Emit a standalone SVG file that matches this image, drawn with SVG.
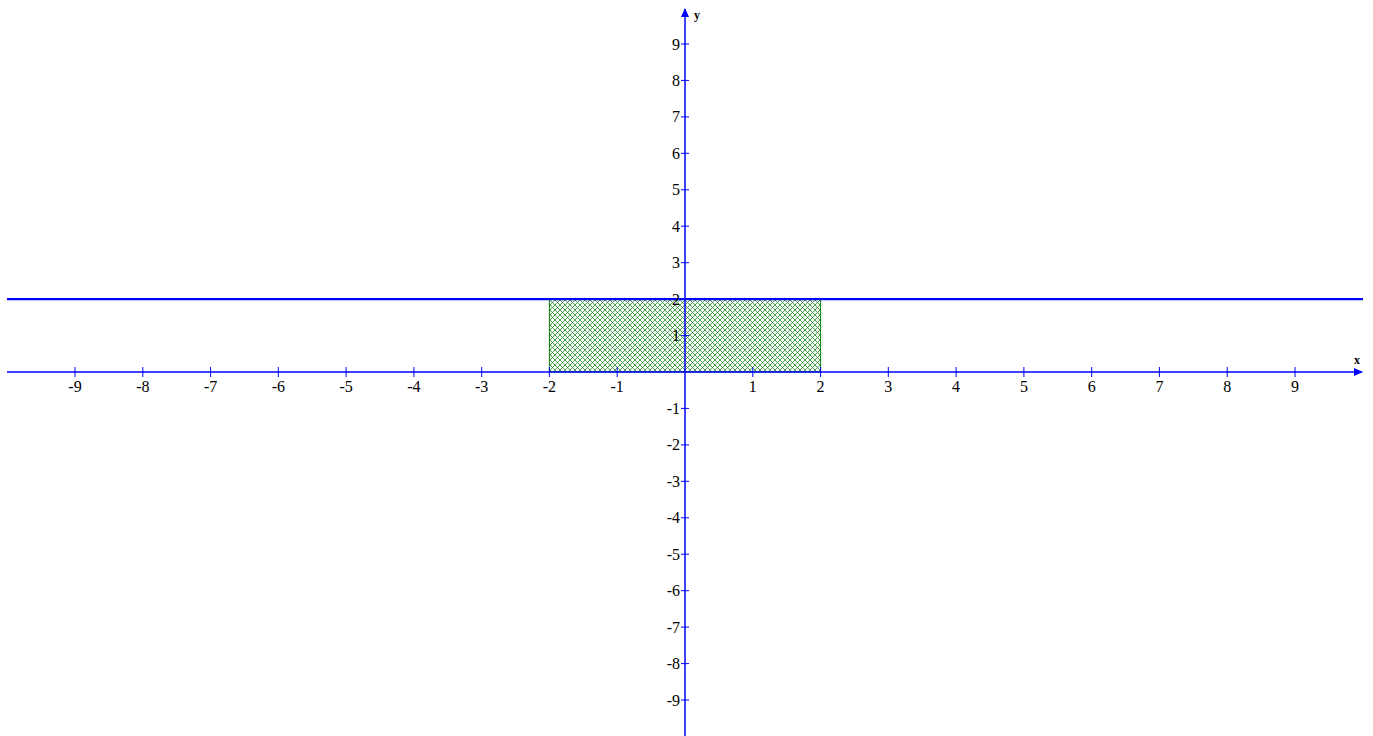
<svg xmlns="http://www.w3.org/2000/svg" width="1373" height="736" viewBox="0 0 1373 736">
<defs>
<style>
.ax{stroke:#0000ff;stroke-width:1.5;fill:none}
.tk{stroke:#0000ff;stroke-width:1}
.lb{font-family:"Liberation Serif","Times New Roman",serif;font-size:16px;fill:#000}
.xl{text-anchor:middle}
.yl{text-anchor:end}
.al{font-family:"Liberation Serif","Times New Roman",serif;font-size:12px;font-weight:bold;fill:#000}
</style>
<pattern id="hatch" width="5" height="5" patternUnits="userSpaceOnUse">
<path d="M0,0 L5,5 M5,0 L0,5 M-1,4 L1,6 M4,-1 L6,1 M4,6 L6,4 M-1,1 L1,-1" stroke="#1f8a1f" stroke-width="0.8" fill="none"/>
</pattern>
<marker id="arr" markerWidth="10" markerHeight="10" refX="8" refY="5" orient="auto" markerUnits="userSpaceOnUse">
<path d="M0,1 L9,5 L0,9 Z" fill="#0000ff"/>
</marker>
</defs>
<rect width="1373" height="736" fill="#fff"/>
<g id="region">
<rect x="549.4" y="299.1" width="271.2" height="72.9" fill="url(#hatch)" stroke="#008000" stroke-width="1"/>
</g>
<g id="connectors">
<line id="xaxis" class="ax" x1="7" y1="372" x2="1362" y2="372" marker-end="url(#arr)"/>
<line id="yaxis" class="ax" x1="685" y1="736" x2="685" y2="9" marker-end="url(#arr)"/>
<line id="line-y2" x1="7" y1="299.1" x2="1363" y2="299.1" stroke="#0000ff" stroke-width="2.2"/>
</g>
<g id="xticks" class="tk">
<path d="M75.0,367v10M142.8,367v10M210.6,367v10M278.3,367v10M346.1,367v10M413.9,367v10M481.7,367v10M549.4,367v10M617.2,367v10M752.8,367v10M820.6,367v10M888.3,367v10M956.1,367v10M1023.9,367v10M1091.7,367v10M1159.4,367v10M1227.2,367v10M1295.0,367v10"/>
</g>
<g id="yticks" class="tk">
<path d="M681,44.0h8M681,80.4h8M681,116.9h8M681,153.3h8M681,189.8h8M681,226.2h8M681,262.7h8M681,299.1h8M681,335.6h8M681,408.4h8M681,444.9h8M681,481.3h8M681,517.8h8M681,554.2h8M681,590.7h8M681,627.1h8M681,663.6h8M681,700.0h8"/>
</g>
<g id="xlabels" class="lb xl">
<text x="75.0" y="392">-9</text>
<text x="142.8" y="392">-8</text>
<text x="210.6" y="392">-7</text>
<text x="278.3" y="392">-6</text>
<text x="346.1" y="392">-5</text>
<text x="413.9" y="392">-4</text>
<text x="481.7" y="392">-3</text>
<text x="549.4" y="392">-2</text>
<text x="617.2" y="392">-1</text>
<text x="752.8" y="392">1</text>
<text x="820.6" y="392">2</text>
<text x="888.3" y="392">3</text>
<text x="956.1" y="392">4</text>
<text x="1023.9" y="392">5</text>
<text x="1091.7" y="392">6</text>
<text x="1159.4" y="392">7</text>
<text x="1227.2" y="392">8</text>
<text x="1295.0" y="392">9</text>
</g>
<g id="ylabels" class="lb yl">
<text x="680" y="49.5">9</text>
<text x="680" y="85.9">8</text>
<text x="680" y="122.4">7</text>
<text x="680" y="158.8">6</text>
<text x="680" y="195.3">5</text>
<text x="680" y="231.7">4</text>
<text x="680" y="268.2">3</text>
<text x="680" y="304.6">2</text>
<text x="680" y="341.1">1</text>
<text x="680" y="413.9">-1</text>
<text x="680" y="450.4">-2</text>
<text x="680" y="486.8">-3</text>
<text x="680" y="523.3">-4</text>
<text x="680" y="559.7">-5</text>
<text x="680" y="596.2">-6</text>
<text x="680" y="632.6">-7</text>
<text x="680" y="669.1">-8</text>
<text x="680" y="705.5">-9</text>
</g>
<g id="axis-labels" class="al">
<text x="694" y="19">y</text>
<text x="1354" y="364">x</text>
</g>
</svg>
